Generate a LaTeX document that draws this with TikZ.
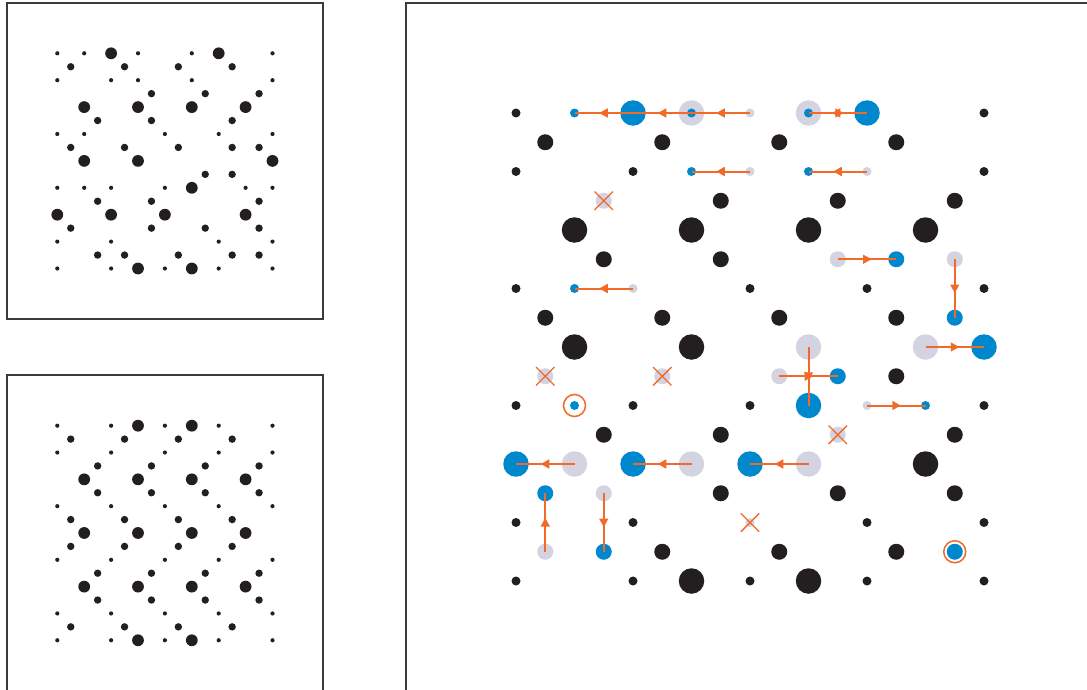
\documentclass[tikz,border=0pt]{standalone}
\usetikzlibrary{decorations.markings,shapes.misc}
\definecolor{dotblack}{HTML}{231F20}
\definecolor{dotblue}{HTML}{0088CE}
\definecolor{dotgray}{HTML}{D3D3E2}
\definecolor{moveorange}{HTML}{F26A2A}
\definecolor{framegray}{HTML}{3A3A3A}
\tikzset{
  dotbase/.style={circle, inner sep=0pt, outer sep=0pt, draw=none},
  ls/.style={dotbase, fill=dotblack, minimum size=4.2pt},
  lm/.style={dotbase, fill=dotblack, minimum size=7.4pt},
  ll/.style={dotbase, fill=dotblack, minimum size=11.8pt},
  rsize/.style={dotbase, minimum size=9pt},
  rmsize/.style={dotbase, minimum size=16pt},
  rlsize/.style={dotbase, minimum size=25.5pt},
  panelframe/.style={draw=framegray, line width=1.3pt},
  move/.style={draw=moveorange, line width=2pt},
  midarrow/.style={postaction={decorate, decoration={markings,
     mark=at position 0.5 with {\fill[moveorange] (4.5pt,0pt) -- (-4pt,4.7pt) -- (-4pt,-4.7pt) -- cycle;}}}},
  dblarrow/.style={postaction={decorate, decoration={markings,
     mark=at position 0.5 with {\fill[moveorange] (5.5pt,0pt) -- (-2.5pt,4.7pt) -- (-2.5pt,-4.7pt) -- cycle;
                                 \fill[moveorange] (-5.5pt,0pt) -- (2.5pt,4.7pt) -- (2.5pt,-4.7pt) -- cycle;}}}},
  removed/.style={cross out, draw=moveorange, line width=1.4pt, minimum size=17pt, inner sep=0pt},
  added/.style={circle, draw=moveorange, line width=1.5pt, minimum size=22pt, inner sep=0pt}
}
\begin{document}
\begin{tikzpicture}[x=1pt,y=-1pt]
\useasboundingbox (0,0) rectangle (1087,690);
\fill[white] (0,0) rectangle (1087,690);

% frames
\draw[panelframe] (7,3) rectangle (323,319);
\draw[panelframe] (7,693) -- (7,375) -- (323,375) -- (323,693);
\draw[panelframe] (406,693) -- (406,3) -- (1090,3);

% ---------- top-left panel (after) ----------
\begin{scope}[shift={(57.3,53.3)}, x=13.45pt, y=-13.45pt]
\foreach \i/\j in {0/0,2/0,6/0,10/0,16/0,0/2,4/2,6/2,10/2,16/2,0/6,2/6,8/6,12/6,16/6,
  0/10,2/10,4/10,8/10,14/10,16/10,0/14,4/14,12/14,16/14,0/16,4/16,8/16,12/16,16/16}
  \node[ls] (tas\i-\j) at (\i,\j) {};
\foreach \i/\j in {1/1,5/1,9/1,13/1,7/3,11/3,15/3,3/5,7/5,13/5,1/7,5/7,9/7,13/7,15/7,
  11/9,13/9,3/11,7/11,15/11,1/13,7/13,11/13,15/13,3/15,5/15,9/15,13/15,15/15}
  \node[lm] (tam\i-\j) at (\i,\j) {};
\foreach \i/\j in {4/0,12/0,2/4,6/4,10/4,14/4,2/8,6/8,16/8,10/10,0/12,4/12,8/12,14/12,6/16,10/16}
  \node[ll] (tal\i-\j) at (\i,\j) {};
\end{scope}

% ---------- bottom-left panel (before) ----------
\begin{scope}[shift={(57.3,425.7)}, x=13.45pt, y=-13.41pt]
\foreach \j in {0,2,6,10,14,16}
  \foreach \i in {0,4,8,12,16}
    \node[ls] (bbs\i-\j) at (\i,\j) {};
\foreach \j in {1,7,9,15}
  \foreach \i in {1,5,9,13}
    \node[lm] (bbm\i-\j) at (\i,\j) {};
\foreach \j in {3,5,11,13}
  \foreach \i in {3,7,11,15}
    \node[lm] (bbm\i-\j) at (\i,\j) {};
\foreach \j in {4,8,12}
  \foreach \i in {2,6,10,14}
    \node[ll] (bbl\i-\j) at (\i,\j) {};
\foreach \i/\j in {6/0,10/0,6/16,10/16}
  \node[ll] (bbl\i-\j) at (\i,\j) {};
\end{scope}

% ---------- right panel (moves) ----------
\begin{scope}[shift={(516,113)}, x=29.25pt, y=-29.25pt]
% black atoms
\foreach \i/\j in {0/0,16/0,0/2,4/2,16/2,0/6,8/6,12/6,16/6,0/10,4/10,8/10,16/10,
  0/14,4/14,12/14,16/14,0/16,4/16,8/16,12/16,16/16}
  \node[rsize, fill=dotblack] (k\i-\j) at (\i,\j) {};
\foreach \i/\j in {1/1,5/1,9/1,13/1,7/3,11/3,15/3,3/5,7/5,1/7,5/7,9/7,13/7,13/9,
  3/11,7/11,15/11,7/13,11/13,15/13,5/15,9/15,13/15}
  \node[rmsize, fill=dotblack] (k\i-\j) at (\i,\j) {};
\foreach \i/\j in {2/4,6/4,10/4,14/4,2/8,6/8,14/12,6/16,10/16}
  \node[rlsize, fill=dotblack] (k\i-\j) at (\i,\j) {};
% grey: original positions
\foreach \i/\j in {8/0,4/6,8/2,12/2,12/10,8/14}
  \node[rsize, fill=dotgray] (g\i-\j) at (\i,\j) {};
\foreach \i/\j in {3/3,11/5,15/5,1/9,5/9,9/9,11/11,3/13,1/15}
  \node[rmsize, fill=dotgray] (g\i-\j) at (\i,\j) {};
\foreach \i/\j in {6/0,10/0,10/8,14/8,2/12,6/12,10/12}
  \node[rlsize, fill=dotgray] (g\i-\j) at (\i,\j) {};
% blue: new positions
\foreach \i/\j in {2/0,6/0,10/0,6/2,10/2,2/6,2/10,14/10}
  \node[rsize, fill=dotblue] (b\i-\j) at (\i,\j) {};
\foreach \i/\j in {13/5,15/7,11/9,1/13,3/15,15/15}
  \node[rmsize, fill=dotblue] (b\i-\j) at (\i,\j) {};
\foreach \i/\j in {4/0,12/0,16/8,10/10,0/12,4/12,8/12}
  \node[rlsize, fill=dotblue] (b\i-\j) at (\i,\j) {};
% removed / added markers
\foreach \i/\j in {3/3,1/9,5/9,11/11,8/14}
  \node[removed] (x\i-\j) at (\i,\j) {};
\foreach \i/\j in {2/10,15/15}
  \node[added] (a\i-\j) at (\i,\j) {};
% moves
\draw[move, midarrow] (g8-0.center) -- (b6-0.center);
\draw[move, midarrow] (g6-0.center) -- (b4-0.center);
\draw[move, midarrow] (b4-0.center) -- (b2-0.center);
\draw[move, dblarrow] (g10-0.center) -- (b12-0.center);
\draw[move, midarrow] (g8-2.center) -- (b6-2.center);
\draw[move, midarrow] (g12-2.center) -- (b10-2.center);
\draw[move, midarrow] (g11-5.center) -- (b13-5.center);
\draw[move, midarrow] (g15-5.center) -- (b15-7.center);
\draw[move, midarrow] (g4-6.center) -- (b2-6.center);
\draw[move, midarrow] (g14-8.center) -- (b16-8.center);
\draw[move, midarrow] (g9-9.center) -- (b11-9.center);
\draw[move, midarrow] (g10-8.center) -- (b10-10.center);
\draw[move, midarrow] (g12-10.center) -- (b14-10.center);
\draw[move, midarrow] (g2-12.center) -- (b0-12.center);
\draw[move, midarrow] (g6-12.center) -- (b4-12.center);
\draw[move, midarrow] (g10-12.center) -- (b8-12.center);
\draw[move, midarrow] (g1-15.center) -- (b1-13.center);
\draw[move, midarrow] (g3-13.center) -- (b3-15.center);
\end{scope}
\end{tikzpicture}
\end{document}
